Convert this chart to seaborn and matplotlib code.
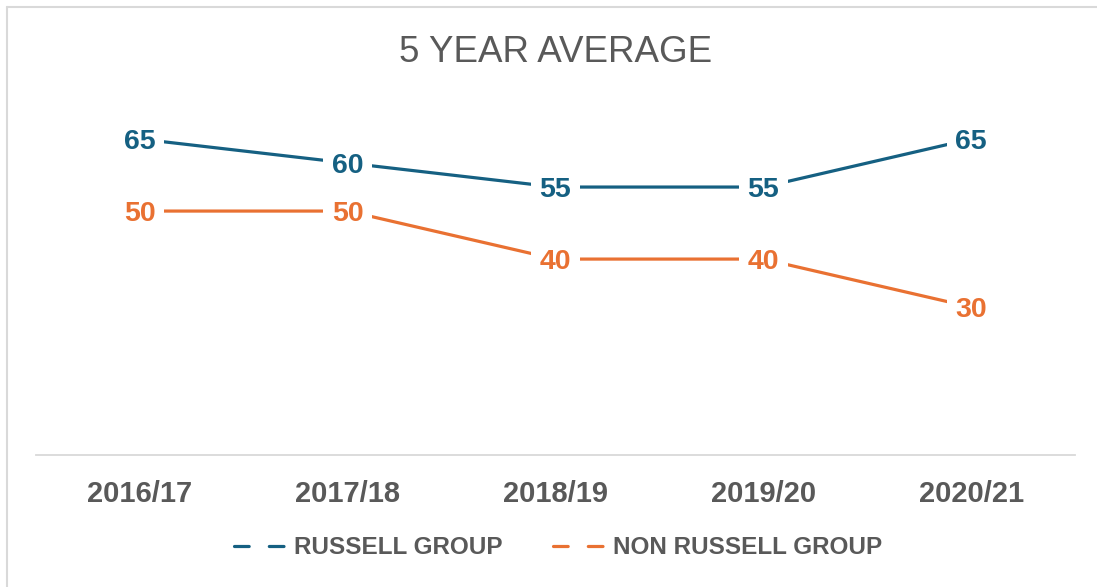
import matplotlib
matplotlib.use('Agg')
import matplotlib.pyplot as plt
from matplotlib.lines import Line2D
import pandas as pd
import seaborn as sns

# chart data
years = ['2016/17', '2017/18', '2018/19', '2019/20', '2020/21']
russell = [65, 60, 55, 55, 65]
non_russell = [50, 50, 40, 40, 30]
series_names = ['RUSSELL GROUP', 'NON RUSSELL GROUP']

blue = '#156082'
orange = '#E97132'
grey = '#595959'
palette = {series_names[0]: blue, series_names[1]: orange}

df = pd.DataFrame({
    'year': years * 2,
    'group': [series_names[0]] * len(years) + [series_names[1]] * len(years),
    'value': russell + non_russell,
})

sns.set_theme(style='white')
plt.rcParams['font.family'] = ['Liberation Sans', 'DejaVu Sans']

fig = plt.figure(figsize=(10.97, 5.87), dpi=100)
ax = fig.add_axes([36 / 1097, 1 - 455 / 587, (1075 - 36) / 1097, (455 - 67) / 587])

sns.lineplot(data=df, x='year', y='value', hue='group', palette=palette,
             linewidth=2.3, legend=False, ax=ax, sort=False)

# data labels sitting on the points, white box breaks the line
for _, row in df.iterrows():
    ax.text(years.index(row['year']), row['value'], f"{row['value']:g}",
            ha='center', va='center_baseline', fontsize=20.5, fontweight='bold',
            color=palette[row['group']], zorder=5,
            bbox=dict(boxstyle='square,pad=0.3', fc='white', ec='none'))

ax.set_xlim(-0.5, len(years) - 0.5)
ax.set_ylim(-0.8, 80)
ax.set_xlabel('')
ax.set_ylabel('')
ax.set_yticks([])
ax.tick_params(axis='x', length=0, pad=18, labelsize=21, labelcolor=grey)
for lbl in ax.get_xticklabels():
    lbl.set_fontweight('bold')
for side in ['top', 'right', 'left']:
    ax.spines[side].set_visible(False)
ax.spines['bottom'].set_color('#D9D9D9')
ax.spines['bottom'].set_linewidth(1.3)

# title
fig.text(555.5 / 1097, 1 - 52 / 587, '5 YEAR AVERAGE', ha='center', va='center',
         fontsize=26.5, color=grey)

# legend with dashed handles
handles = [Line2D([], [], color=palette[n], lw=2.3, linestyle=(0, (4.6, 6.3)),
                  dash_capstyle='round') for n in series_names]
leg = fig.legend(handles, series_names, loc='center', ncol=2,
                 bbox_to_anchor=(558 / 1097, 1 - 548 / 587), frameon=False,
                 handlelength=2.22, handletextpad=0.25, columnspacing=2.05,
                 prop={'family': ['Liberation Sans', 'DejaVu Sans'],
                       'weight': 'bold', 'size': 17.5})
for t in leg.get_texts():
    t.set_color(grey)

# light border on top and left like the source crop
fig.add_artist(Line2D([6.5 / 1097, 6.5 / 1097], [0, 1 - 7 / 587],
                      transform=fig.transFigure, color='#D9D9D9', lw=1.5))
fig.add_artist(Line2D([6.5 / 1097, 1], [1 - 7 / 587, 1 - 7 / 587],
                      transform=fig.transFigure, color='#D9D9D9', lw=1.5))

fig.savefig('out.png', dpi=100, facecolor='white')
